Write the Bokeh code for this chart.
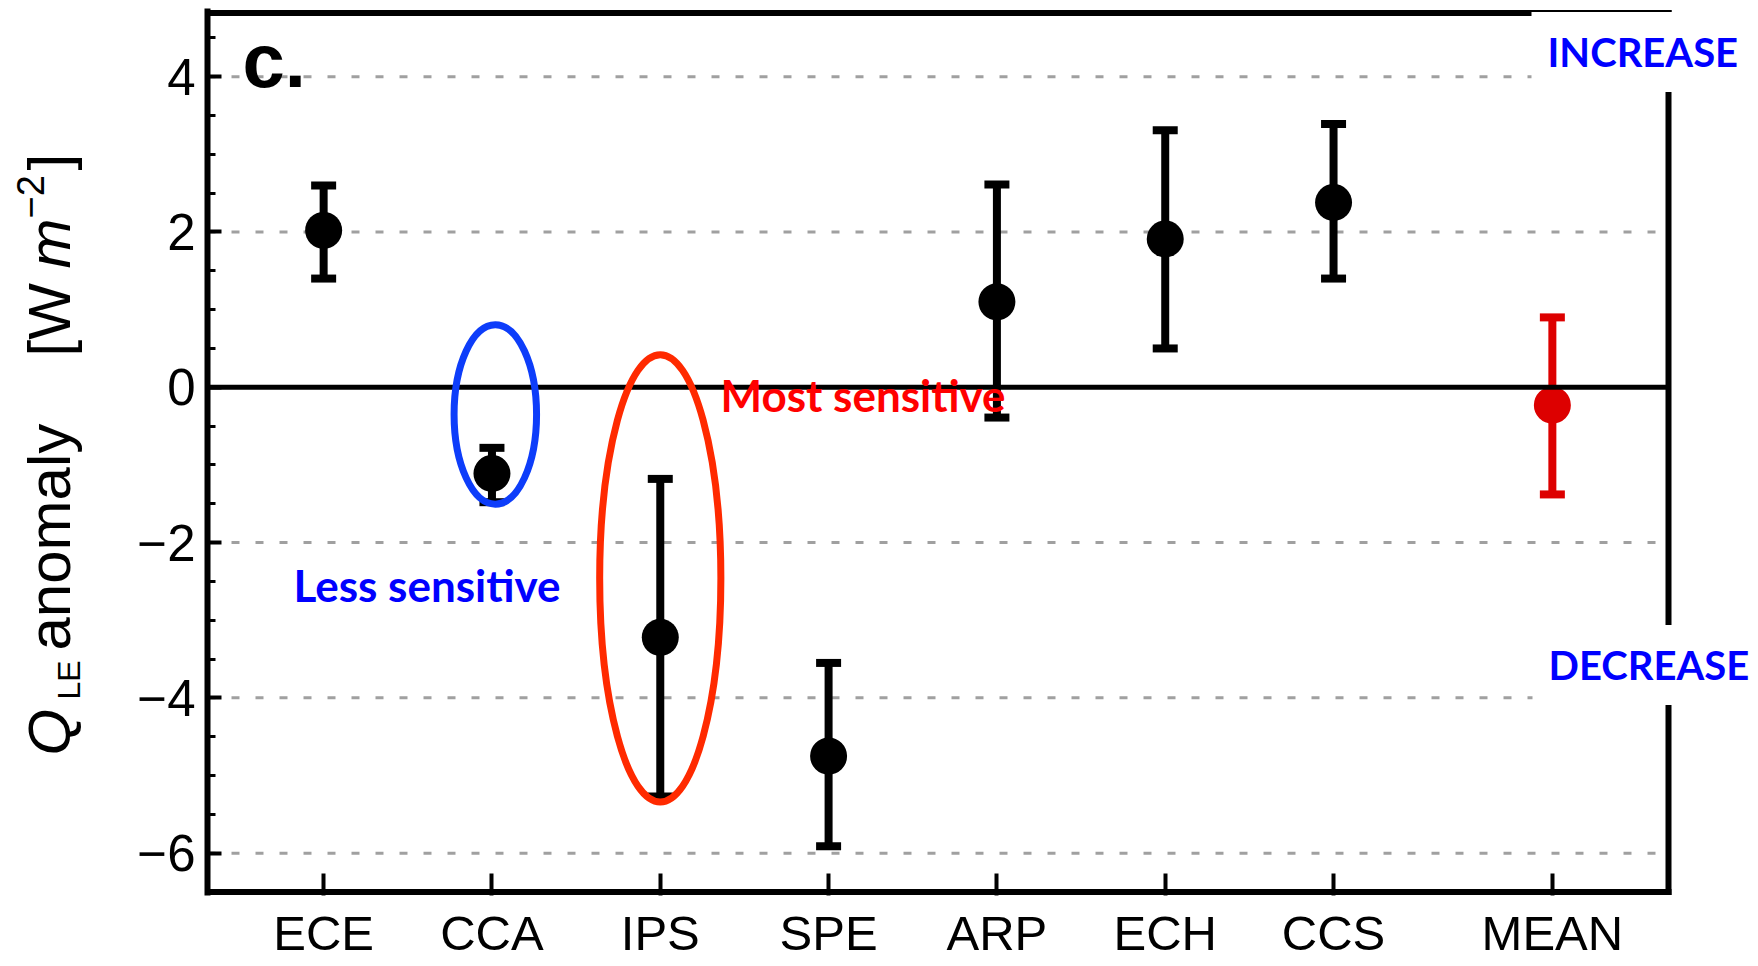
import math
from bokeh.plotting import figure
from bokeh.layouts import row
from bokeh.models import FixedTicker, Label, Range1d, ColumnDataSource
from bokeh.embed import file_html
from bokeh.resources import INLINE

# ---------------- data ----------------
models = ["ECE", "CCA", "IPS", "SPE", "ARP", "ECH", "CCS", "MEAN"]
x_pos = [1, 2, 3, 4, 5, 6, 7, 8.3]
anomaly = [2.02, -1.11, -3.22, -4.75, 1.10, 1.91, 2.38, -0.23]
err_low = [1.40, -1.48, -5.27, -5.91, -0.39, 0.50, 1.40, -1.38]
err_high = [2.60, -0.78, -1.18, -3.55, 2.61, 3.31, 3.39, 0.90]
point_colors = ["black"] * 7 + ["#DD0000"]

y_ticks = [-6, -4, -2, 0, 2, 4]
y_tick_labels = ["\u22126", "\u22124", "\u22122", "0", "2", "4"]

# highlight ellipses (around CCA and IPS)
ell_x = [2.02, 3.0]
ell_y = [-0.35, -2.46]
ell_w = [0.49, 0.72]
ell_h = [2.31, 5.76]
ell_colors = ["#0D3DFA", "#FF2A00"]

# ---------------- layout ----------------
X0, XR = 0.31, 8.99
Y0, Y1 = -6.5, 4.82
PX_L, PX_R, PY_T, PY_B = 207, 1668, 12.5, 891.5
SX = (PX_R - PX_L) / (XR - X0)
SY = (PY_B - PY_T) / (Y1 - Y0)

LAB_W = 128
LEFT = PX_L - LAB_W
FRAME_TOP, FRAME_BOT, FRAME_RIGHT = 8, 895, 1752

# (ascent - descent) / 2 as a fraction of font size, to place baselines with "middle" anchors
MID_LIB = 0.3465
MID_LATO = 0.387


def px_x(px):
    return X0 + (px - PX_L) / SX


def px_y(py):
    return Y1 - (py - PY_T) / SY


yr = Range1d(px_y(FRAME_BOT), px_y(FRAME_TOP))

p = figure(frame_width=FRAME_RIGHT - PX_L, frame_height=FRAME_BOT - FRAME_TOP,
           x_range=Range1d(X0, px_x(FRAME_RIGHT)), y_range=yr,
           output_backend="svg", toolbar_location=None,
           min_border_left=LEFT, min_border_top=FRAME_TOP,
           min_border_right=0, min_border_bottom=10)

p.background_fill_color = "white"
p.border_fill_color = "white"
p.outline_line_color = None
p.xgrid.visible = False
p.ygrid.visible = False

# axes
p.xaxis.ticker = FixedTicker(ticks=x_pos)
p.xaxis.major_label_overrides = {x: m for x, m in zip(x_pos, models)}
p.yaxis.ticker = FixedTicker(ticks=y_ticks, minor_ticks=[v / 2 for v in range(-13, 10)])
p.yaxis.major_label_overrides = dict(zip(y_ticks, y_tick_labels))

for ax in (p.xaxis[0], p.yaxis[0]):
    ax.axis_line_width = 6
    ax.axis_line_color = "black"
    ax.major_tick_line_width = 4
    ax.major_tick_line_color = "black"
    ax.major_tick_out = 0
    ax.minor_tick_out = 0
    ax.major_label_text_font = "Liberation Sans"
    ax.major_label_text_color = "black"

p.xaxis.axis_line_color = None
p.xaxis.major_tick_in = 22
p.xaxis.minor_tick_line_color = None
p.xaxis.major_label_text_font_size = "49px"
p.xaxis.major_label_standoff = 10
p.yaxis.major_tick_in = 14
p.yaxis.minor_tick_in = 8
p.yaxis.minor_tick_line_width = 3
p.yaxis.minor_tick_line_color = "black"
p.yaxis.major_label_text_font_size = "51px"
p.yaxis.major_label_standoff = 12

# dashed grid lines (inside the box only)
grid_y = [t for t in y_ticks if t != 0]
p.segment(x0=[X0] * len(grid_y), x1=[XR] * len(grid_y), y0=grid_y, y1=grid_y,
          line_color="#A0A0A0", line_width=3, line_dash="8 16")

# box borders: top, right, bottom
p.segment(x0=[X0, XR, X0], x1=[XR, XR, XR], y0=[Y1, Y0, Y0], y1=[Y1, Y1, Y0],
          line_color="black", line_width=6, line_cap="square")

# error bars and points
src = ColumnDataSource(dict(x=x_pos, y=anomaly, lo=err_low, hi=err_high, color=point_colors))
p.segment(x0="x", y0="lo", x1="x", y1="hi", line_width=8, line_color="color", source=src)
p.rect(x="x", y="hi", width=25, height=8, width_units="screen", height_units="screen",
       fill_color="color", line_color=None, source=src)
p.rect(x="x", y="lo", width=25, height=8, width_units="screen", height_units="screen",
       fill_color="color", line_color=None, source=src)
p.scatter(x="x", y="y", size=37, marker="circle", fill_color="color", line_color=None, source=src)

# zero line
p.segment(x0=[X0], x1=[XR], y0=[0], y1=[0], line_color="black", line_width=5)

# ellipses
p.ellipse(x=ell_x, y=ell_y, width=ell_w, height=ell_h, fill_color=None,
          line_color=ell_colors, line_width=7)

# panel label
p.add_layout(Label(x=px_x(242), y=px_y(86 - MID_LIB * 76), text="c.",
                   text_font="Liberation Sans", text_font_style="bold",
                   text_font_size="76px", text_color="black",
                   text_align="left", text_baseline="middle"))

# annotations (left edge px, baseline px)
ann = [
    ("Less sensitive", 293, 602, "#0000FF", 0, 44),
    ("Most sensitive", 720, 412, "#FF0000", 0, 44),
    ("INCREASE", 1547, 67, "#0000FF", 16, 40),
    ("DECREASE", 1548, 680, "#0000FF", 16, 40),
]
for t, ax_, ay_, col, pad, fs in ann:
    kw = dict(background_fill_color="white", padding=pad) if pad else {}
    p.add_layout(Label(x=px_x(ax_ - pad), y=px_y(ay_ - MID_LATO * fs), text=t,
                       text_font="Lato", text_font_style="bold",
                       text_font_size=f"{fs}px", text_color=col,
                       text_align="left", text_baseline="middle", **kw))

# ---------------- y-axis label (narrow panel sharing the y range) ----------------
lab = figure(frame_width=LAB_W, frame_height=FRAME_BOT - FRAME_TOP,
             x_range=Range1d(0, LAB_W), y_range=yr,
             output_backend="svg", toolbar_location=None,
             min_border_left=0, min_border_right=0,
             min_border_top=FRAME_TOP, min_border_bottom=10,
             x_axis_location=None, y_axis_location=None)
lab.outline_line_color = None
lab.grid.visible = False
lab.background_fill_color = "white"
lab.border_fill_color = "white"

# (text, baseline x px, start y px, font size, style)
ylab = [
    ("Q", 70, 755, 60, "italic"),
    ("LE", 80, 699, 32, "normal"),
    ("anomaly", 70, 650, 60, "normal"),
    ("[W", 70, 356, 60, "normal"),
    ("m", 70, 268, 60, "italic"),
    ("\u22122", 43, 218, 38, "normal"),
    ("]", 70, 170, 60, "normal"),
]
for t, bx, by, fs, st in ylab:
    lab.add_layout(Label(x=bx - MID_LIB * fs, y=px_y(by), text=t, angle=math.pi / 2,
                         text_font="Liberation Sans", text_font_size=f"{fs}px",
                         text_font_style=st, text_color="black",
                         text_align="left", text_baseline="middle"))

layout = row(lab, p)
open("out.html", "w").write(file_html(layout, INLINE))
